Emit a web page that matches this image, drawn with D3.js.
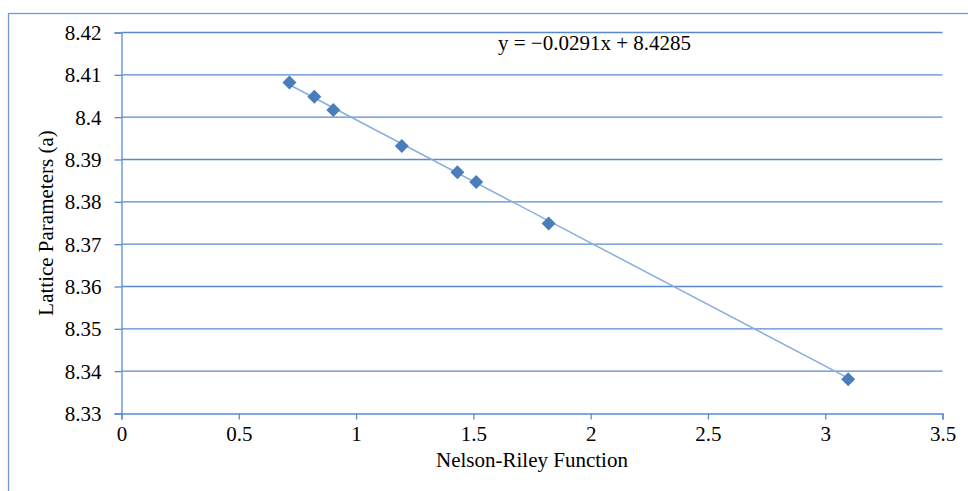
<!DOCTYPE html>
<html>
<head>
<meta charset="utf-8">
<script src="https://cdn.jsdelivr.net/npm/d3@7"></script>
<style>
  body { margin: 0; background: #fff; }
  svg text { font-family: "Liberation Serif", "Times New Roman", serif; fill: #000; }
</style>
</head>
<body>
<div class="canvas-container"></div>
<script>
// Nelson-Riley values
var nrValues = [0.716, 0.822, 0.903, 1.195, 1.432, 1.512, 1.821, 3.098];
var latticeValues = [8.4082, 8.4048, 8.4017, 8.3932, 8.3870, 8.3847, 8.3749, 8.3381];
var xTicks = [0, 0.5, 1, 1.5, 2, 2.5, 3, 3.5];
var yTicks = [8.33, 8.34, 8.35, 8.36, 8.37, 8.38, 8.39, 8.40, 8.41, 8.42];
var slope = -0.0291, intercept = 8.4285;
var equationLabel = "y = \u22120.0291x + 8.4285";

var width = 968, height = 491;
var margin = {top: 32.5, right: 25.5, bottom: 77.5, left: 121.5};
var gridColor = "#5a8ace", markColor = "#4a7ebb", trendColor = "#87aede";

var svg = d3.select("div.canvas-container")
    .append("svg")
    .attr("width", width)
    .attr("height", height);

// outer chart frame
svg.append("rect")
    .attr("x", 8.5).attr("y", 13.5)
    .attr("width", 980).attr("height", 500)
    .attr("fill", "none")
    .attr("stroke", "#7199d2")
    .attr("stroke-width", 1.3);

var x = d3.scaleLinear().domain([0, 3.5]).range([margin.left, width - margin.right]);
var y = d3.scaleLinear().domain([8.33, 8.42]).range([height - margin.bottom, margin.top]);

// horizontal gridlines
svg.selectAll(".grid")
    .data(yTicks.slice(1))
    .enter()
    .append("line")
    .attr("class", "grid")
    .attr("x1", x(0)).attr("x2", x(3.5))
    .attr("y1", function (d) { return y(d); })
    .attr("y2", function (d) { return y(d); })
    .attr("stroke", gridColor)
    .attr("stroke-width", 1.3);

var xAxis = svg.append("g")
    .attr("transform", "translate(0," + y(8.33) + ")")
    .call(d3.axisBottom(x).tickValues(xTicks).tickSize(6).tickPadding(7)
          .tickFormat(function (d) { return d; }));

var yAxis = svg.append("g")
    .attr("transform", "translate(" + x(0) + ",0)")
    .call(d3.axisLeft(y).tickValues(yTicks).tickSize(7).tickPadding(13)
          .tickFormat(function (d) { return +d.toFixed(2); }));

[xAxis, yAxis].forEach(function (ax) {
    ax.select(".domain").attr("stroke", gridColor).attr("stroke-width", 1.3);
    ax.selectAll(".tick line").attr("stroke", gridColor).attr("stroke-width", 1.3);
    ax.selectAll(".tick text")
        .style("font-family", "'Liberation Serif', 'Times New Roman', serif")
        .style("font-size", "21px")
        .attr("fill", "#000");
});
yAxis.selectAll(".tick text").attr("dy", "0.34em");

// linear trendline
var xmin = d3.min(nrValues), xmax = d3.max(nrValues);
svg.append("line")
    .attr("x1", x(xmin)).attr("y1", y(intercept + slope * xmin))
    .attr("x2", x(xmax)).attr("y2", y(intercept + slope * xmax))
    .attr("stroke", trendColor)
    .attr("stroke-width", 1.5);

// diamond markers
var points = nrValues.map(function (v, i) { return {nr: v, a: latticeValues[i]}; });
svg.selectAll(".pt")
    .data(points)
    .enter()
    .append("path")
    .attr("class", "pt")
    .attr("d", "M0,-7L7,0L0,7L-7,0Z")
    .attr("transform", function (d) { return "translate(" + x(d.nr) + "," + y(d.a) + ")"; })
    .attr("fill", markColor);

svg.append("text")
    .attr("x", 498).attr("y", 50)
    .style("font-size", "21px")
    .text(equationLabel);

svg.append("text")
    .attr("x", (x(0) + x(3.5)) / 2 + 0).attr("y", 467)
    .attr("text-anchor", "middle")
    .style("font-size", "21px")
    .text("Nelson-Riley Function");

svg.append("text")
    .attr("transform", "translate(53," + (y(8.375)) + ") rotate(-90)")
    .attr("text-anchor", "middle")
    .style("font-size", "21px")
    .text("Lattice Parameters (a)");
</script>
</body>
</html>
